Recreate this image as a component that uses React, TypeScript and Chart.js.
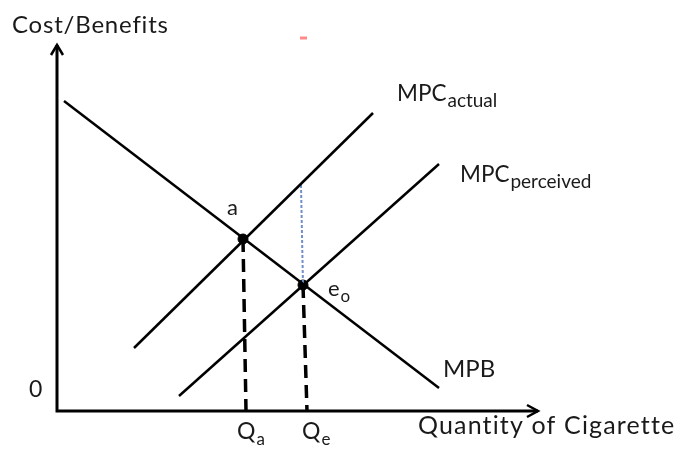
import { useEffect, useRef } from "react";
import { Chart, registerables } from "chart.js";

Chart.register(...registerables);

// Curves in chart units (origin = axis intersection)
const mpbX = [7, 382];
const mpbY = [310, 23];
const mpcActualX = [77, 316];
const mpcActualY = [63, 298];
const mpcPerceivedX = [122, 382];
const mpcPerceivedY = [15, 247];
// Equilibrium points: a, e0
const eqX = [186, 246];
const eqY = [172, 126];
// Drop lines to quantity axis
const dropAX = [186, 189];
const dropAY = [172, 0];
const dropEX = [246, 250];
const dropEY = [126, 0];
// External cost gap
const gapX = [244, 246];
const gapY = [226, 126];
// stray mark
const markX = [243, 250];
const markY = [373, 373];
// axis extents
const axisXMax = 481;
const axisYMax = 366;

const FONT = "Lato, 'Open Sans', sans-serif";

type Lbl = { t: string; sub?: string; x: number; y: number; size: number; subSize?: number; ls?: number };
const labels: Lbl[] = [
  { t: "Cost/Benefits", x: -45, y: 378, size: 24, ls: 0.8 },
  { t: "0", x: -28, y: 14, size: 23, ls: 0 },
  { t: "a", x: 170, y: 196, size: 22 },
  { t: "e", sub: "o", x: 271, y: 115, size: 22, subSize: 17 },
  { t: "MPC", sub: "actual", x: 340, y: 310, size: 22.5, subSize: 19 },
  { t: "MPC", sub: "perceived", x: 403, y: 229, size: 22.5, subSize: 19 },
  { t: "MPB", x: 386, y: 34, size: 24 },
  { t: "Q", sub: "a", x: 180, y: -28, size: 23, subSize: 17 },
  { t: "Q", sub: "e", x: 245, y: -28, size: 23, subSize: 17 },
  { t: "Quantity of Cigarette", x: 361, y: -23, size: 25, ls: 1.15 },
];

const pts = (xs: number[], ys: number[]) => xs.map((x, i) => ({ x, y: ys[i] }));

const overlay = {
  id: "overlay",
  afterDatasetsDraw(chart: any) {
    const { ctx, scales } = chart;
    const px = (v: number) => scales.x.getPixelForValue(v);
    const py = (v: number) => scales.y.getPixelForValue(v);
    ctx.save();
    ctx.strokeStyle = "#000";
    ctx.lineWidth = 3;
    ctx.lineCap = "butt";
    // axes
    ctx.beginPath();
    ctx.moveTo(px(0), py(axisYMax));
    ctx.lineTo(px(0), py(0));
    ctx.lineTo(px(axisXMax), py(0));
    ctx.stroke();
    ctx.lineWidth = 2.5;
    // y arrow
    ctx.beginPath();
    ctx.moveTo(px(0) - 6, py(axisYMax) + 10);
    ctx.lineTo(px(0), py(axisYMax));
    ctx.lineTo(px(0) + 6, py(axisYMax) + 10);
    ctx.stroke();
    // x arrow
    ctx.beginPath();
    ctx.moveTo(px(axisXMax) - 11, py(0) - 6);
    ctx.lineTo(px(axisXMax), py(0));
    ctx.lineTo(px(axisXMax) - 11, py(0) + 6);
    ctx.stroke();
    // labels
    ctx.fillStyle = "#1a1a1a";
    ctx.textBaseline = "alphabetic";
    ctx.textAlign = "left";
    for (const l of labels) {
      ctx.font = `${l.size}px ${FONT}`;
      (ctx as any).letterSpacing = `${l.ls ?? 0}px`;
      const x = px(l.x);
      const y = py(l.y);
      ctx.fillText(l.t, x, y);
      if (l.sub) {
        const w = ctx.measureText(l.t).width;
        ctx.font = `${l.subSize}px ${FONT}`;
        ctx.fillText(l.sub, x + w + 1, y + 6);
      }
    }
    (ctx as any).letterSpacing = "0px";
    ctx.restore();
  },
};

export default function App() {
  const ref = useRef<HTMLCanvasElement>(null);
  useEffect(() => {
    if (!ref.current) return;
    const line = (xs: number[], ys: number[], extra: any = {}) => ({
      data: pts(xs, ys),
      showLine: true,
      borderColor: "#000",
      borderWidth: 2.5,
      pointRadius: 0,
      ...extra,
    });
    const chart = new Chart(ref.current, {
      type: "scatter",
      data: {
        datasets: [
          line(mpbX, mpbY),
          line(mpcActualX, mpcActualY),
          line(mpcPerceivedX, mpcPerceivedY),
          line(dropAX, dropAY, { borderWidth: 3.5, borderDash: [13, 7] }),
          line(dropEX, dropEY, { borderWidth: 3.5, borderDash: [13, 7] }),
          line(gapX, gapY, { borderColor: "#6f8fc8", borderWidth: 2, borderDash: [3, 2] }),
          line(markX, markY, { borderColor: "#ff8a8a", borderWidth: 3 }),
          {
            data: pts(eqX, eqY),
            showLine: false,
            pointRadius: 5,
            pointBackgroundColor: "#000",
            pointBorderColor: "#000",
          },
        ],
      },
      options: {
        responsive: false,
        animation: false,
        layout: { padding: 0, autoPadding: false },
        plugins: { legend: { display: false }, tooltip: { enabled: false } },
        scales: {
          x: { type: "linear", min: -49, max: 621, display: false },
          y: { type: "linear", min: -36, max: 403, display: false },
        },
      },
      plugins: [overlay],
    });
    return () => chart.destroy();
  }, []);
  return (
    <div style={{ width: 670, height: 439, background: "#fff" }}>
      <canvas ref={ref} width={670} height={439} style={{ display: "block" }} />
    </div>
  );
}
